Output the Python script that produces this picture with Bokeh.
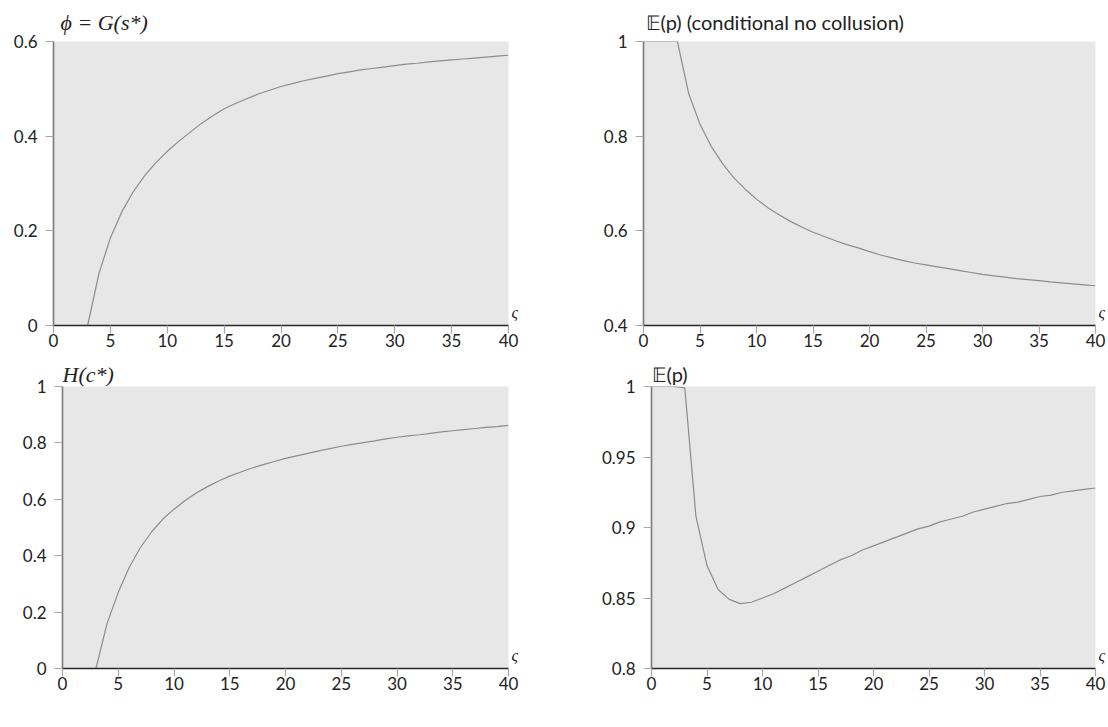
from bokeh.plotting import figure
from bokeh.layouts import column, row
from bokeh.models import Range1d, FixedTicker, LinearAxis
from bokeh.embed import file_html
from bokeh.resources import INLINE

# ---- data ----
x_phi = list(range(2, 41))
phi = [0, 0, 0.11, 0.185, 0.24, 0.282, 0.316, 0.344, 0.368, 0.389, 0.408, 0.427, 0.443,
       0.458, 0.469, 0.479, 0.489, 0.497, 0.505, 0.511, 0.517, 0.522, 0.527, 0.532,
       0.536, 0.540, 0.543, 0.546, 0.549, 0.552, 0.554, 0.557, 0.559, 0.561, 0.563,
       0.565, 0.567, 0.569, 0.571]

x_ep_cond = list(range(0, 41))
ep_cond = [1, 1, 1, 1, 0.89, 0.825, 0.778, 0.742, 0.712, 0.688, 0.667, 0.649, 0.634,
           0.62, 0.608, 0.597, 0.588, 0.579, 0.571, 0.564, 0.556, 0.549, 0.543, 0.537,
           0.532, 0.528, 0.524, 0.520, 0.516, 0.512, 0.508, 0.505, 0.502, 0.499, 0.497,
           0.495, 0.492, 0.490, 0.488, 0.486, 0.484]

x_h = list(range(2, 41))
h_c = [0, 0, 0.16, 0.27, 0.36, 0.43, 0.485, 0.53, 0.565, 0.596, 0.622, 0.645, 0.665,
       0.682, 0.697, 0.711, 0.723, 0.734, 0.745, 0.754, 0.763, 0.772, 0.780, 0.788,
       0.795, 0.801, 0.807, 0.814, 0.82, 0.825, 0.829, 0.834, 0.839, 0.843, 0.847,
       0.851, 0.855, 0.858, 0.862]

x_ep = list(range(0, 41))
ep = [1, 1, 1, 0.999, 0.908, 0.873, 0.856, 0.849, 0.846, 0.847, 0.85, 0.853, 0.857,
      0.861, 0.865, 0.869, 0.873, 0.877, 0.88, 0.884, 0.887, 0.89, 0.893, 0.896, 0.899,
      0.901, 0.904, 0.906, 0.908, 0.911, 0.913, 0.915, 0.917, 0.918, 0.92, 0.922, 0.923,
      0.925, 0.926, 0.927, 0.928]

x_ticks = [0, 5, 10, 15, 20, 25, 30, 35, 40]
y_ticks_phi = [0, 0.2, 0.4, 0.6]
y_labels_phi = ["0", "0.2", "0.4", "0.6"]
y_ticks_epc = [0.4, 0.6, 0.8, 1]
y_labels_epc = ["0.4", "0.6", "0.8", "1"]
y_ticks_h = [0, 0.2, 0.4, 0.6, 0.8, 1]
y_labels_h = ["0", "0.2", "0.4", "0.6", "0.8", "1"]
y_ticks_ep = [0.8, 0.85, 0.9, 0.95, 1]
y_labels_ep = ["0.8", "0.85", "0.9", "0.95", "1"]
x_axis_name = "ς"

BG = "#e6e7e6"
LINE = "#8c8c8c"
TICKC = "#a8a8a8"
SANS = "Lato"
SERIF = "Liberation Serif"


def make(xs, ys, ylo, yhi, yt, ylab, title, title_font, title_style, title_size,
         title_offset, title_standoff, w, h, bl, br, bt, bb):
    p = figure(width=w, height=h, x_range=Range1d(0, 40), y_range=Range1d(ylo, yhi),
               output_backend="svg", toolbar_location=None,
               min_border_left=bl, min_border_right=br, min_border_top=bt,
               min_border_bottom=bb)
    p.background_fill_color = BG
    p.border_fill_color = "white"
    p.outline_line_color = None
    p.grid.visible = False
    p.title.text = title
    p.title.text_font = title_font
    p.title.text_font_style = title_style
    p.title.text_font_size = title_size
    p.title.text_color = "#222222"
    p.title.align = "left"
    p.title.offset = title_offset
    p.title.standoff = title_standoff

    p.line(xs, ys, line_color=LINE, line_width=1.2)

    p.xaxis.ticker = FixedTicker(ticks=x_ticks)
    p.yaxis.ticker = FixedTicker(ticks=yt)
    p.yaxis.major_label_overrides = {t: l for t, l in zip(yt, ylab)}
    for ax in (p.xaxis[0], p.yaxis[0]):
        ax.major_tick_in = 0
        ax.major_tick_out = 8
        ax.major_tick_line_color = TICKC
        ax.major_tick_line_width = 1.2
        ax.minor_tick_line_color = None
        ax.major_label_text_font = SANS
        ax.major_label_text_font_size = "17px"
        ax.major_label_text_color = "#222222"
    p.xaxis.major_label_standoff = 0
    p.yaxis.major_label_standoff = 8
    p.xaxis.axis_line_color = "#262626"
    p.xaxis.axis_line_width = 1.6
    p.yaxis.axis_line_color = "#7a7a7a"
    p.yaxis.axis_line_width = 1.6

    # variable name placed just right of the x-axis end
    pos = ylo + 0.046 * (yhi - ylo)
    rax = LinearAxis(ticker=FixedTicker(ticks=[pos]),
                     major_label_overrides={pos: x_axis_name},
                     axis_line_color=None, major_tick_line_color=None,
                     minor_tick_line_color=None, major_tick_out=0, major_tick_in=0,
                     major_label_standoff=3,
                     major_label_text_font=SERIF, major_label_text_font_style="italic",
                     major_label_text_font_size="16px",
                     major_label_text_color="#222222")
    p.add_layout(rax, "right")
    return p


p1 = make(x_phi, phi, 0, 0.6, y_ticks_phi, y_labels_phi, "ϕ = G(s*)", SERIF, "italic",
          "22px", 7, 14, 598, 354, 53, 90, 40, 29)
p2 = make(x_ep_cond, ep_cond, 0.4, 1, y_ticks_epc, y_labels_epc,
          "𝔼(p) (conditional no collusion)", SANS, "normal", "20px", 2, 15,
          509, 354, 45, 11, 40, 29)
p3 = make(x_h, h_c, 0, 1, y_ticks_h, y_labels_h, "H(c*)", SERIF, "italic", "22px", 0, 0,
          598, 359, 62, 90, 32, 45)
p4 = make(x_ep, ep, 0.8, 1, y_ticks_ep, y_labels_ep, "𝔼(p)", SANS, "normal", "20px", 0, 2,
          509, 359, 47, 11, 32, 45)

layout = column(row(p1, p2), row(p3, p4))
open("out.html", "w").write(file_html(layout, INLINE))
